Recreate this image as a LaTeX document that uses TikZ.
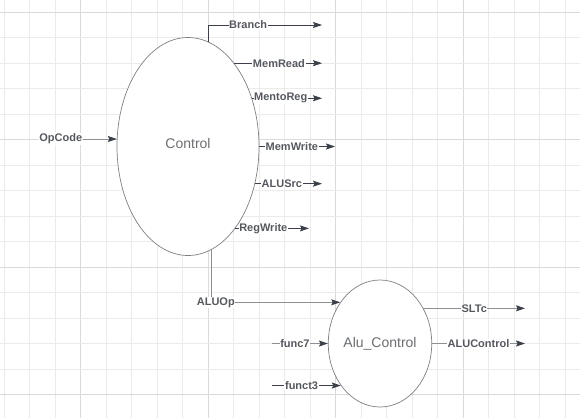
\documentclass[tikz,border=0pt]{standalone}
\usepackage{fontspec}
\setmainfont{Liberation Sans}
\usetikzlibrary{arrows.meta,shapes.geometric}
\definecolor{minorg}{HTML}{EBEBEB}
\definecolor{majorg}{HTML}{DADADA}
\definecolor{dk}{HTML}{3B4049}
\definecolor{gy}{HTML}{8C8F94}
\definecolor{txt}{HTML}{55595E}
\definecolor{etxt}{HTML}{6B6E72}
\definecolor{eln}{HTML}{7E8084}
\begin{document}
\begin{tikzpicture}[x=1pt,y=-1pt,
  tip/.style={-{Stealth[length=9pt,width=6pt,inset=1.5pt,color=dk]}},
  dkline/.style={tip,draw=dk,line width=0.75pt},
  gyline/.style={tip,draw=gy,line width=0.75pt},
  lab/.style={fill=white,inner sep=0.6pt,text=txt,font=\fontsize{11}{13}\selectfont\bfseries},
  ell/.style={ellipse,draw=eln,line width=0.7pt,fill=white,inner sep=0pt,text=etxt,font=\fontsize{14}{16}\selectfont}]
\useasboundingbox (0,0) rectangle (580,418);
\fill[white] (0,0) rectangle (580,418);
% grid
\foreach \i in {0,...,22}{
  \pgfmathtruncatemacro\m{mod(\i,5)}
  \ifnum\m=3 \def\gc{majorg}\else\def\gc{minorg}\fi
  \draw[\gc,line width=0.7pt] ({4.2+25.5*\i},0) -- ({4.2+25.5*\i},418);
}
\foreach \j in {0,...,15}{
  \pgfmathtruncatemacro\m{mod(\j,5)}
  \ifnum\m=0 \def\gc{majorg}\else\def\gc{minorg}\fi
  \draw[\gc,line width=0.7pt] (0,{12.3+25.47*\j}) -- (580,{12.3+25.47*\j});
}
% shapes
\node[ell,minimum width=142pt,minimum height=218pt,text depth=6pt] (ctrl) at (188,146.5) {Control};
\node[ell,minimum width=90pt,minimum height=127pt] (alu) at (380,343.5) {Alu\_Control};
% end coordinates
\coordinate (xA) at (322,0);
\coordinate (xW) at (335,0);
\coordinate (xRW) at (309,0);
\coordinate (xS) at (525,0);
\coordinate (xIn) at (272,0);
\coordinate (xOp) at (40,0);
\coordinate (eB) at (322,25);
% Control outputs
\draw[dkline] (ctrl.79) |- node[lab,pos=0.675] (lB) {Branch} (eB);
\draw[dkline] (ctrl.61) -- node[lab,pos=0.51] (lMR) {MemRead} (ctrl.61 -| xA);
\draw[dkline] (ctrl.37) -- node[lab,pos=0.41] (lMtR) {MentoReg} (ctrl.37 -| xA);
\draw[dkline] (ctrl.east) -- node[lab,pos=0.43] (lMW) {MemWrite} (ctrl.east -| xW);
\draw[dkline] (ctrl.-29) -- node[lab,pos=0.40] (lAS) {ALUSrc} (ctrl.-29 -| xA);
\draw[dkline] (ctrl.-60) -- node[lab,pos=0.38] (lRW) {RegWrite} (ctrl.-60 -| xRW);
% OpCode input
\draw[gyline] (ctrl.174 -| xOp) -- node[lab,pos=0.27] (lOp) {OpCode} (ctrl.174);
% ALUOp
\draw[gyline] (ctrl.-77) |- node[lab,pos=0.5,xshift=4pt] (lAO) {ALUOp} (alu.134);
% Alu inputs
\draw[gyline] (alu.west -| xIn) -- node[lab,pos=0.41] (lf7) {func7} (alu.west);
\draw[dkline] (alu.-133 -| xIn) -- node[lab,pos=0.43] (lf3) {funct3} (alu.-133);
% Alu outputs
\draw[gyline] (alu.39) -- node[lab,pos=0.5] (lSL) {SLTc} (alu.39 -| xS);
\draw[gyline] (alu.east) -- node[lab,pos=0.5] (lAC) {ALUControl} (alu.east -| xS);
\end{tikzpicture}
\end{document}
